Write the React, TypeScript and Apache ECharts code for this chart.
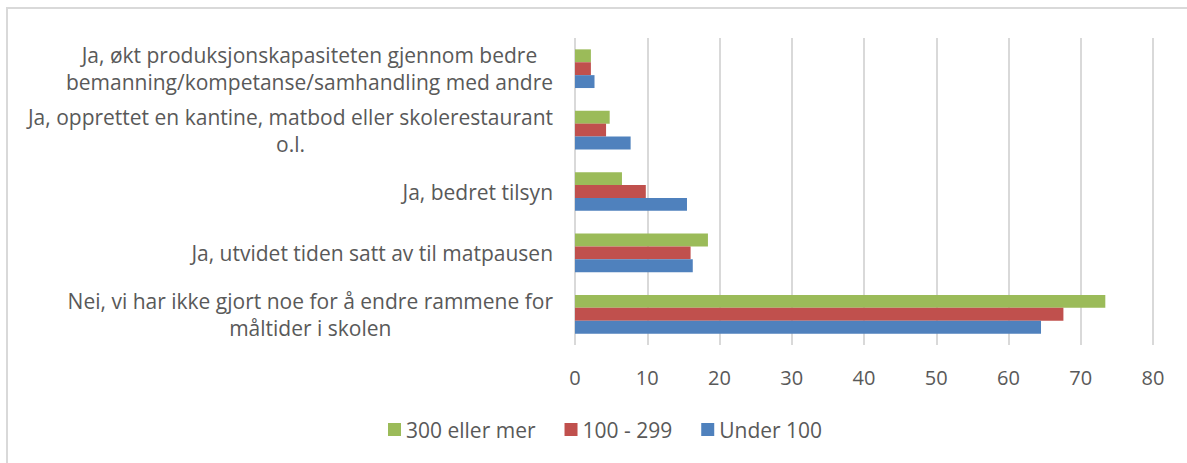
import React, { useEffect, useRef } from "react";
import * as echarts from "echarts";

const categories = [
  "Nei, vi har ikke gjort noe for å endre rammene for\nmåltider i skolen",
  "Ja, utvidet tiden satt av til matpausen",
  "Ja, bedret tilsyn",
  "Ja, opprettet en kantine, matbod eller skolerestaurant\no.l.",
  "Ja, økt produksjonskapasiteten gjennom bedre\nbemanning/kompetanse/samhandling med andre",
];
const seriesNames = ["300 eller mer", "100 - 299", "Under 100"];
const over300 = [73.4, 18.4, 6.5, 4.8, 2.2];
const mid100to299 = [67.6, 16.0, 9.8, 4.3, 2.2];
const under100 = [64.5, 16.3, 15.5, 7.7, 2.7];
const xTicks = { min: 0, max: 80, interval: 10 };
const colors = ["#9BBB59", "#C0504D", "#4F81BD"];

const FONT = "'Open Sans', 'Noto Sans', sans-serif";
const TEXT = "#595959";

export default function App() {
  const ref = useRef<HTMLDivElement>(null);
  useEffect(() => {
    if (!ref.current) return;
    const chart = echarts.init(ref.current, undefined, { renderer: "svg" });
    const data = [over300, mid100to299, under100];
    chart.setOption({
      animation: false,
      backgroundColor: "#ffffff",
      textStyle: { fontFamily: FONT },
      graphic: [
        {
          type: "rect",
          shape: { x: 7, y: 8, width: 1200, height: 500 },
          style: { fill: "none", stroke: "#d9d9d9", lineWidth: 2 },
          silent: true,
        },
      ],
      grid: { left: 575, right: 34, top: 38, bottom: 118, containLabel: false },
      legend: {
        bottom: 18,
        left: 383,
        data: ["300 eller mer", "100 - 299", "Under 100"],
        icon: "rect",
        itemWidth: 13,
        itemHeight: 13,
        itemGap: 29,
        textStyle: { color: TEXT, fontSize: 21, fontFamily: FONT },
      },
      xAxis: {
        type: "value",
        min: xTicks.min,
        max: xTicks.max,
        interval: xTicks.interval,
        axisLine: { show: false },
        axisTick: { show: false },
        splitLine: { show: true, lineStyle: { color: "#d9d9d9", width: 2 } },
        axisLabel: { color: TEXT, fontSize: 20, margin: 22, fontFamily: FONT },
      },
      yAxis: {
        type: "category",
        data: categories,
        axisLine: { show: false },
        axisTick: { show: false },
        axisLabel: {
          margin: 22,
          align: "right",
          formatter: (v: string) =>
            v
              .split("\n")
              .map((l) => "{a|" + l + "}")
              .join("\n"),
          rich: {
            a: {
              align: "center",
              color: TEXT,
              fontSize: 21,
              lineHeight: 27,
              fontFamily: FONT,
            },
          },
        },
      },
      series: seriesNames.map((name, i) => ({
        name,
        type: "bar",
        data: data[i],
        barGap: "0%",
        barCategoryGap: "37%",
        itemStyle: { color: colors[i] },
      })),
    });
    return () => chart.dispose();
  }, []);
  return (
    <div
      ref={ref}
      style={{ width: 1187, height: 463, position: "fixed", left: 0, top: 0 }}
    />
  );
}
